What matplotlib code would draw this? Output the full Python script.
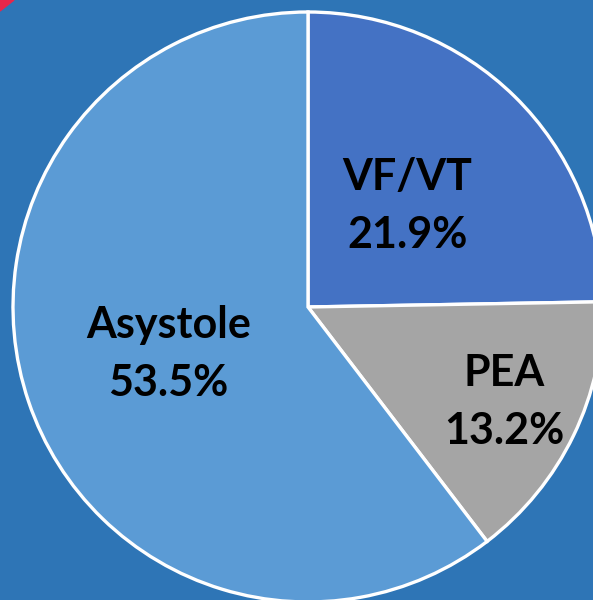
import matplotlib.pyplot as plt
import numpy as np

labels = ['VF/VT', 'PEA', 'Asystole']
values = [21.9, 13.2, 53.5]
colors = ['#4472C4', '#A5A5A5', '#5B9BD5']
label_dist = [0.48, 0.74, 0.50]

bg = '#2E75B6'

fig = plt.figure(figsize=(5.93, 6.0), dpi=100)
fig.patch.set_facecolor(bg)
ax = fig.add_axes([0, 0, 1, 1])
ax.set_facecolor(bg)

cx, cy, r = 308, 293, 295
wedges, _ = ax.pie(values, colors=colors, startangle=90, counterclock=False,
                   radius=r, center=(cx, cy),
                   wedgeprops=dict(edgecolor='white', linewidth=2.4))

for w, lab, val, d in zip(wedges, labels, values, label_dist):
    ang = np.deg2rad((w.theta1 + w.theta2) / 2)
    ax.text(cx + d * r * np.cos(ang), cy + d * r * np.sin(ang),
            f'{lab}\n{val:.1f}%', ha='center', va='center',
            fontsize=31, fontweight='bold', family='Lato', color='black',
            linespacing=1.55)

ax.set_xlim(0, 593)
ax.set_ylim(0, 600)
ax.set_aspect('equal')
ax.axis('off')

# red corner at top left
fig.patches.append(plt.Polygon([[0, 1], [14 / 593, 1], [0, 1 - 11 / 600]],
                               closed=True, transform=fig.transFigure,
                               color='#E8264B', zorder=0))

fig.savefig('out.png', dpi=100, facecolor=bg)
